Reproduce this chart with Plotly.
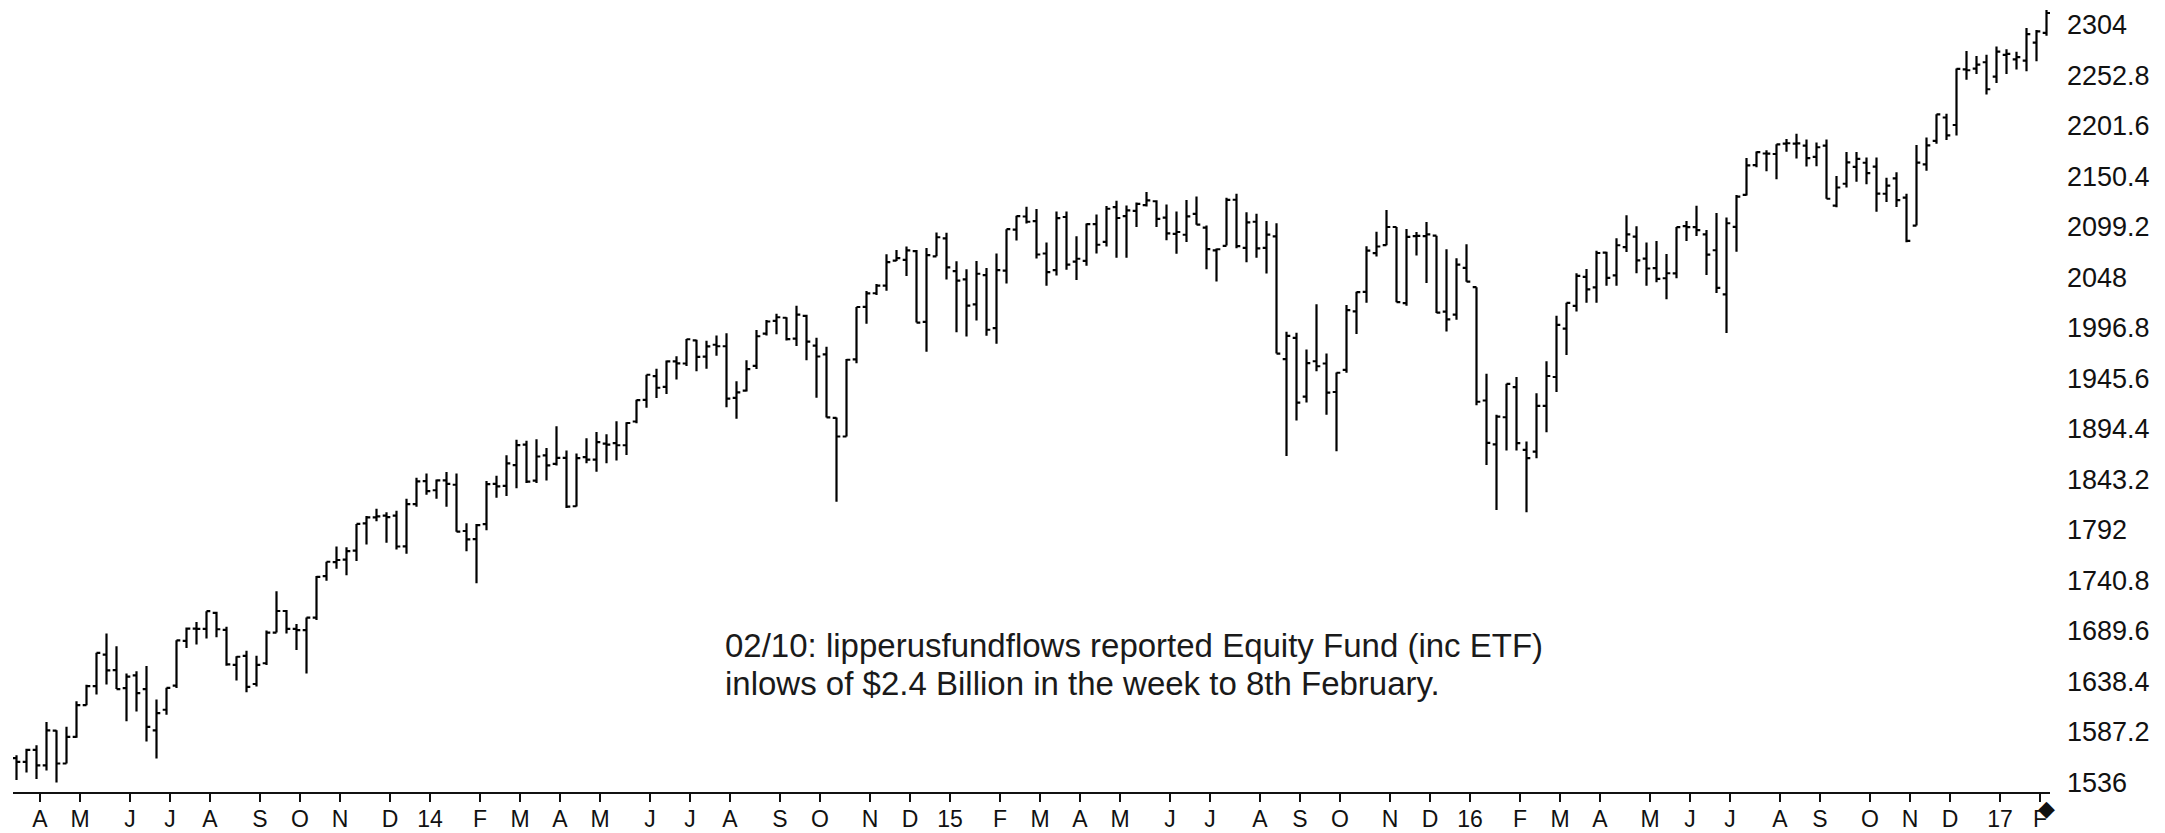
import pandas as pd
import plotly.graph_objects as go

# Weekly bars (week ending Friday), 2013-03-22 .. 2017-02-10
week_dates = pd.date_range("2013-03-22", "2017-02-10", freq="W-FRI")

open_ = [
    1560.7, 1556.9, 1569.2, 1553.3, 1588.6, 1555.3, 1582.3, 1614.4, 1633.7, 1665.7,
    1650.0, 1631.7, 1644.7, 1630.6, 1588.8, 1609.8, 1634.2, 1679.6, 1692.1, 1691.7,
    1708.0, 1690.7, 1655.3, 1664.3, 1635.9, 1656.9, 1688.0, 1709.9, 1691.7, 1690.5,
    1703.1, 1745.2, 1759.4, 1762.0, 1771.0, 1798.8, 1804.8, 1806.6, 1806.6, 1775.4,
    1818.3, 1841.5, 1832.3, 1842.3, 1837.9, 1791.0, 1782.7, 1798.0, 1838.8, 1836.8,
    1857.7, 1878.5, 1842.0, 1867.7, 1859.0, 1865.1, 1816.1, 1865.8, 1863.4, 1879.5,
    1880.0, 1877.9, 1902.0, 1923.9, 1948.0, 1937.2, 1962.9, 1960.8, 1984.2, 1967.7,
    1979.8, 1978.3, 1926.0, 1933.4, 1958.4, 1991.0, 2004.1, 2007.2, 1986.0, 2009.1,
    1978.9, 1970.0, 1905.7, 1886.8, 1965.0, 2018.2, 2032.0, 2039.7, 2065.1, 2065.8,
    2074.8, 2002.9, 2069.3, 2087.6, 2054.4, 2046.1, 2020.8, 2050.4, 1996.7, 2055.0,
    2096.5, 2109.8, 2105.2, 2072.3, 2055.4, 2109.3, 2064.1, 2064.9, 2102.0, 2084.1,
    2119.3, 2110.2, 2115.6, 2121.3, 2125.3, 2108.6, 2092.3, 2091.3, 2112.5, 2098.6,
    2075.4, 2080.0, 2126.8, 2078.0, 2104.5, 2078.0, 2089.7, 1965.2, 1986.7, 1927.3,
    1963.1, 1960.8, 1931.9, 1954.3, 2013.7, 2033.5, 2072.7, 2080.8, 2099.2, 2022.1,
    2090.0, 2090.0, 2090.4, 2013.4, 2010.3, 2057.8, 2038.2, 1923.3, 1878.9, 1906.3,
    1936.9, 1873.3, 1871.4, 1917.8, 1947.1, 1996.1, 2019.3, 2048.6, 2037.9, 2073.2,
    2050.2, 2078.8, 2089.4, 2067.2, 2057.5, 2047.2, 2052.2, 2100.0, 2099.1, 2091.8,
    2075.6, 2030.8, 2099.3, 2131.7, 2162.0, 2173.7, 2173.2, 2183.7, 2183.7, 2181.6,
    2170.2, 2181.6, 2120.9, 2143.0, 2160.2, 2164.3, 2160.4, 2132.9, 2148.5, 2129.0,
    2100.6, 2162.7, 2186.4, 2210.2, 2202.6, 2259.0, 2259.7, 2266.2, 2251.6, 2273.6,
    2269.1, 2267.8, 2286.0, 2295.9,
]
high = [
    1563.6, 1570.3, 1573.7, 1597.4, 1588.9, 1592.6, 1618.5, 1635.0, 1667.5, 1687.2,
    1674.2, 1646.5, 1648.7, 1654.2, 1620.1, 1632.1, 1680.2, 1693.1, 1698.8, 1709.7,
    1709.2, 1694.0, 1664.0, 1669.5, 1664.5, 1690.0, 1729.9, 1711.0, 1696.6, 1703.4,
    1745.3, 1759.8, 1775.2, 1774.5, 1798.2, 1806.3, 1813.6, 1810.0, 1811.5, 1823.8,
    1844.9, 1849.4, 1843.2, 1850.8, 1849.3, 1798.8, 1798.0, 1841.7, 1846.9, 1867.9,
    1883.6, 1882.4, 1884.0, 1875.2, 1897.3, 1872.5, 1869.6, 1884.9, 1891.3, 1889.1,
    1902.2, 1901.3, 1924.0, 1949.4, 1955.6, 1963.9, 1968.2, 1985.6, 1984.9, 1983.9,
    1989.2, 1991.4, 1942.9, 1964.0, 1994.8, 2005.0, 2011.2, 2007.7, 2019.3, 2010.3,
    1986.8, 1977.8, 1906.1, 1965.3, 2018.2, 2034.3, 2041.3, 2071.5, 2075.8, 2079.5,
    2075.8, 2077.9, 2093.6, 2093.3, 2064.4, 2056.4, 2064.6, 2057.6, 2072.4, 2097.0,
    2110.6, 2119.6, 2117.5, 2083.5, 2114.9, 2114.9, 2089.8, 2102.6, 2111.9, 2120.5,
    2125.9, 2120.9, 2123.9, 2134.7, 2126.2, 2121.9, 2115.0, 2126.6, 2130.0, 2100.8,
    2077.4, 2128.9, 2132.8, 2114.2, 2112.7, 2105.3, 2102.9, 1992.9, 1992.0, 1975.0,
    2020.9, 1970.9, 1951.8, 2020.1, 2033.5, 2079.7, 2094.3, 2116.5, 2099.2, 2097.1,
    2094.1, 2104.3, 2090.4, 2076.7, 2067.6, 2081.6, 2038.2, 1950.3, 1908.9, 1940.2,
    1947.2, 1881.6, 1930.7, 1963.0, 2009.1, 2022.4, 2052.4, 2056.6, 2075.1, 2074.0,
    2087.8, 2111.1, 2099.9, 2083.4, 2084.9, 2071.9, 2099.1, 2105.3, 2120.6, 2096.1,
    2113.3, 2108.7, 2131.7, 2169.1, 2175.6, 2177.1, 2183.0, 2188.5, 2193.8, 2187.9,
    2184.9, 2187.9, 2150.8, 2175.3, 2175.3, 2169.6, 2169.6, 2149.2, 2154.8, 2133.0,
    2182.3, 2189.9, 2213.4, 2214.1, 2259.8, 2277.5, 2272.6, 2273.8, 2282.1, 2279.3,
    2276.9, 2301.0, 2299.0, 2319.2,
]
low = [
    1538.6, 1546.2, 1539.5, 1548.3, 1536.0, 1555.3, 1581.3, 1614.4, 1625.3, 1635.5,
    1630.7, 1598.2, 1608.1, 1577.7, 1560.3, 1604.6, 1631.9, 1672.5, 1676.0, 1681.9,
    1683.4, 1654.4, 1639.4, 1627.5, 1633.4, 1655.2, 1688.0, 1687.1, 1670.4, 1646.5,
    1700.7, 1740.5, 1752.7, 1746.2, 1760.6, 1777.2, 1800.8, 1779.1, 1772.3, 1768.0,
    1815.7, 1827.7, 1823.7, 1815.5, 1790.3, 1770.5, 1737.9, 1791.8, 1824.6, 1826.6,
    1834.4, 1839.6, 1839.6, 1842.1, 1857.4, 1814.4, 1815.8, 1859.7, 1851.0, 1859.8,
    1862.4, 1868.1, 1900.3, 1916.0, 1925.8, 1930.0, 1944.7, 1958.2, 1952.9, 1955.6,
    1968.7, 1916.4, 1904.8, 1932.4, 1955.2, 1989.2, 1990.5, 1984.0, 1978.6, 1964.0,
    1926.0, 1906.0, 1820.7, 1886.8, 1961.0, 2001.0, 2030.2, 2034.5, 2064.8, 2049.6,
    2002.3, 1972.6, 2069.6, 2046.0, 1992.4, 1988.1, 2004.5, 1988.9, 1980.9, 2041.9,
    2085.4, 2102.6, 2067.3, 2039.7, 2049.9, 2055.8, 2045.5, 2060.0, 2072.4, 2079.3,
    2067.9, 2067.9, 2099.2, 2120.0, 2099.2, 2085.7, 2072.1, 2084.0, 2101.5, 2056.3,
    2044.0, 2080.5, 2077.6, 2063.5, 2067.9, 2052.1, 1970.9, 1867.0, 1903.1, 1921.2,
    1953.0, 1908.8, 1871.9, 1951.4, 1990.7, 2022.3, 2069.3, 2080.8, 2022.9, 2019.4,
    2070.3, 2042.4, 2012.0, 1993.3, 2005.1, 2043.6, 1918.5, 1857.8, 1812.3, 1872.7,
    1872.7, 1810.1, 1864.8, 1891.0, 1931.8, 1969.3, 2013.4, 2022.5, 2022.5, 2039.7,
    2039.7, 2073.8, 2052.3, 2039.5, 2043.1, 2025.9, 2047.3, 2085.1, 2090.1, 2050.4,
    2032.2, 1991.7, 2074.0, 2131.0, 2159.8, 2155.8, 2147.6, 2175.4, 2168.5, 2160.4,
    2160.8, 2127.8, 2119.1, 2139.2, 2145.0, 2142.6, 2114.7, 2124.4, 2119.4, 2083.8,
    2100.6, 2156.1, 2183.5, 2187.4, 2192.0, 2248.4, 2254.2, 2233.6, 2245.1, 2254.3,
    2258.8, 2257.0, 2267.2, 2293.1,
]
close = [
    1556.9, 1569.2, 1553.3, 1588.9, 1555.3, 1582.2, 1614.4, 1633.7, 1667.5, 1649.6,
    1630.7, 1643.4, 1626.7, 1592.4, 1606.3, 1631.9, 1680.2, 1692.1, 1691.7, 1709.7,
    1691.4, 1655.8, 1663.5, 1633.0, 1655.2, 1688.0, 1709.9, 1691.8, 1690.5, 1703.2,
    1744.5, 1759.8, 1761.6, 1770.6, 1798.2, 1804.8, 1805.8, 1805.1, 1775.3, 1818.3,
    1841.4, 1831.4, 1842.4, 1838.7, 1790.3, 1782.6, 1797.0, 1838.6, 1836.3, 1859.5,
    1878.0, 1841.1, 1866.5, 1857.6, 1865.1, 1815.7, 1864.9, 1863.4, 1881.1, 1878.5,
    1877.9, 1900.5, 1923.6, 1949.4, 1936.2, 1962.9, 1961.0, 1985.4, 1967.6, 1978.2,
    1978.3, 1925.2, 1931.6, 1955.1, 1988.4, 2003.4, 2007.7, 1985.5, 2010.4, 1982.9,
    1967.9, 1906.1, 1886.8, 1964.6, 2018.1, 2031.9, 2039.8, 2063.5, 2067.6, 2075.4,
    2002.3, 2070.7, 2088.8, 2058.2, 2044.8, 2019.4, 2051.8, 1995.0, 2055.5, 2097.0,
    2110.3, 2104.5, 2071.3, 2053.4, 2108.1, 2061.0, 2067.0, 2102.1, 2081.2, 2117.7,
    2108.3, 2116.1, 2122.7, 2126.1, 2107.4, 2092.8, 2094.1, 2110.0, 2101.5, 2076.8,
    2076.6, 2126.6, 2079.7, 2103.8, 2077.6, 2091.5, 1970.9, 1988.9, 1921.2, 1961.1,
    1958.0, 1931.3, 1951.4, 2014.9, 2033.1, 2075.2, 2079.4, 2099.2, 2023.0, 2089.2,
    2090.1, 2091.7, 2012.4, 2005.6, 2061.0, 2043.9, 1922.0, 1880.3, 1906.9, 1940.2,
    1880.1, 1864.8, 1917.8, 1948.1, 2000.0, 2022.2, 2049.6, 2035.9, 2072.8, 2047.6,
    2080.7, 2091.6, 2065.3, 2057.1, 2046.6, 2052.3, 2099.1, 2099.1, 2096.1, 2071.2,
    2037.4, 2103.0, 2129.9, 2161.7, 2175.0, 2173.6, 2182.9, 2184.1, 2183.9, 2169.0,
    2180.0, 2127.8, 2139.2, 2164.7, 2168.3, 2153.7, 2133.0, 2141.2, 2126.4, 2085.2,
    2164.5, 2181.9, 2213.4, 2192.0, 2259.5, 2258.1, 2263.8, 2238.8, 2277.0, 2274.6,
    2271.3, 2294.7, 2297.4, 2316.1,
]

month_letters = ["J", "F", "M", "A", "M", "J", "J", "A", "S", "O", "N", "D"]
y_tick_values = [1536 + 51.2 * k for k in range(16)]
y_tick_labels = ["1536", "1587.2", "1638.4", "1689.6", "1740.8", "1792", "1843.2",
                 "1894.4", "1945.6", "1996.8", "2048", "2099.2", "2150.4", "2201.6",
                 "2252.8", "2304"]

note_lines = [
    "02/10: lipperusfundflows reported Equity Fund (inc ETF)",
    "inlows of $2.4 Billion in the week to 8th February.",
]

FONT = "Liberation Sans, Arial, Helvetica, sans-serif"

bar_pos = list(range(len(week_dates)))

# ticks at the first weekly bar of every month (January shows 2-digit year)
tick_vals, tick_text = [], []
prev_month = None
for i, d in enumerate(week_dates):
    if d.month != prev_month:
        if i > 0:
            tick_vals.append(i + 0.35)
            tick_text.append(f"{d.year % 100:02d}" if d.month == 1 else month_letters[d.month - 1])
        prev_month = d.month

bar_line = dict(color="#000000", width=2.2)
fig = go.Figure(
    go.Ohlc(
        x=bar_pos,
        open=open_, high=high, low=low, close=close,
        increasing=dict(line=bar_line),
        decreasing=dict(line=bar_line),
        tickwidth=0.38,
        text=[d.strftime("%Y-%m-%d") for d in week_dates],
        hoverinfo="text+y",
        showlegend=False,
    )
)

fig.update_layout(
    width=2165, height=833,
    margin=dict(l=13, r=115, t=0, b=41, autoexpand=False),
    paper_bgcolor="white", plot_bgcolor="white",
    font=dict(family=FONT, color="#111111"),
    showlegend=False,
    xaxis=dict(
        range=[-0.35, len(week_dates) - 1 + 0.35],
        rangeslider=dict(visible=False),
        automargin=False,
        showgrid=False, zeroline=False,
        showline=True, linecolor="#111111", linewidth=2,
        ticks="outside", ticklen=8, tickwidth=1.5, tickcolor="#111111",
        tickvals=tick_vals, ticktext=tick_text,
        tickfont=dict(size=23, family=FONT, color="#111111"),
        ticklabelstandoff=-3,
    ),
    yaxis=dict(
        side="right",
        range=[1526.4, 2329.3],
        automargin=False,
        showgrid=False, zeroline=False, showline=False,
        ticks="",
        tickvals=y_tick_values, ticktext=y_tick_labels,
        tickfont=dict(size=27, family=FONT, color="#111111"),
        ticklabelstandoff=16,
    ),
)

for line, ypos in zip(note_lines, [0.1856, 0.1376]):
    fig.add_annotation(
        xref="paper", yref="paper", x=0.3486, y=ypos,
        xanchor="left", yanchor="middle", showarrow=False,
        text=line, font=dict(size=33, family=FONT, color="#1a1a1a"),
    )

# end-of-data marker on the time axis
fig.add_annotation(
    xref="x", yref="paper", x=bar_pos[-1], y=0,
    xanchor="center", yanchor="top", yshift=-2, showarrow=False,
    text="◆", font=dict(size=22, family="DejaVu Sans", color="#111111"),
)

fig.write_html(
    "out.html",
    config={"displayModeBar": False},
    post_script="document.body.style.margin='0px';document.body.style.overflow='hidden';",
)
